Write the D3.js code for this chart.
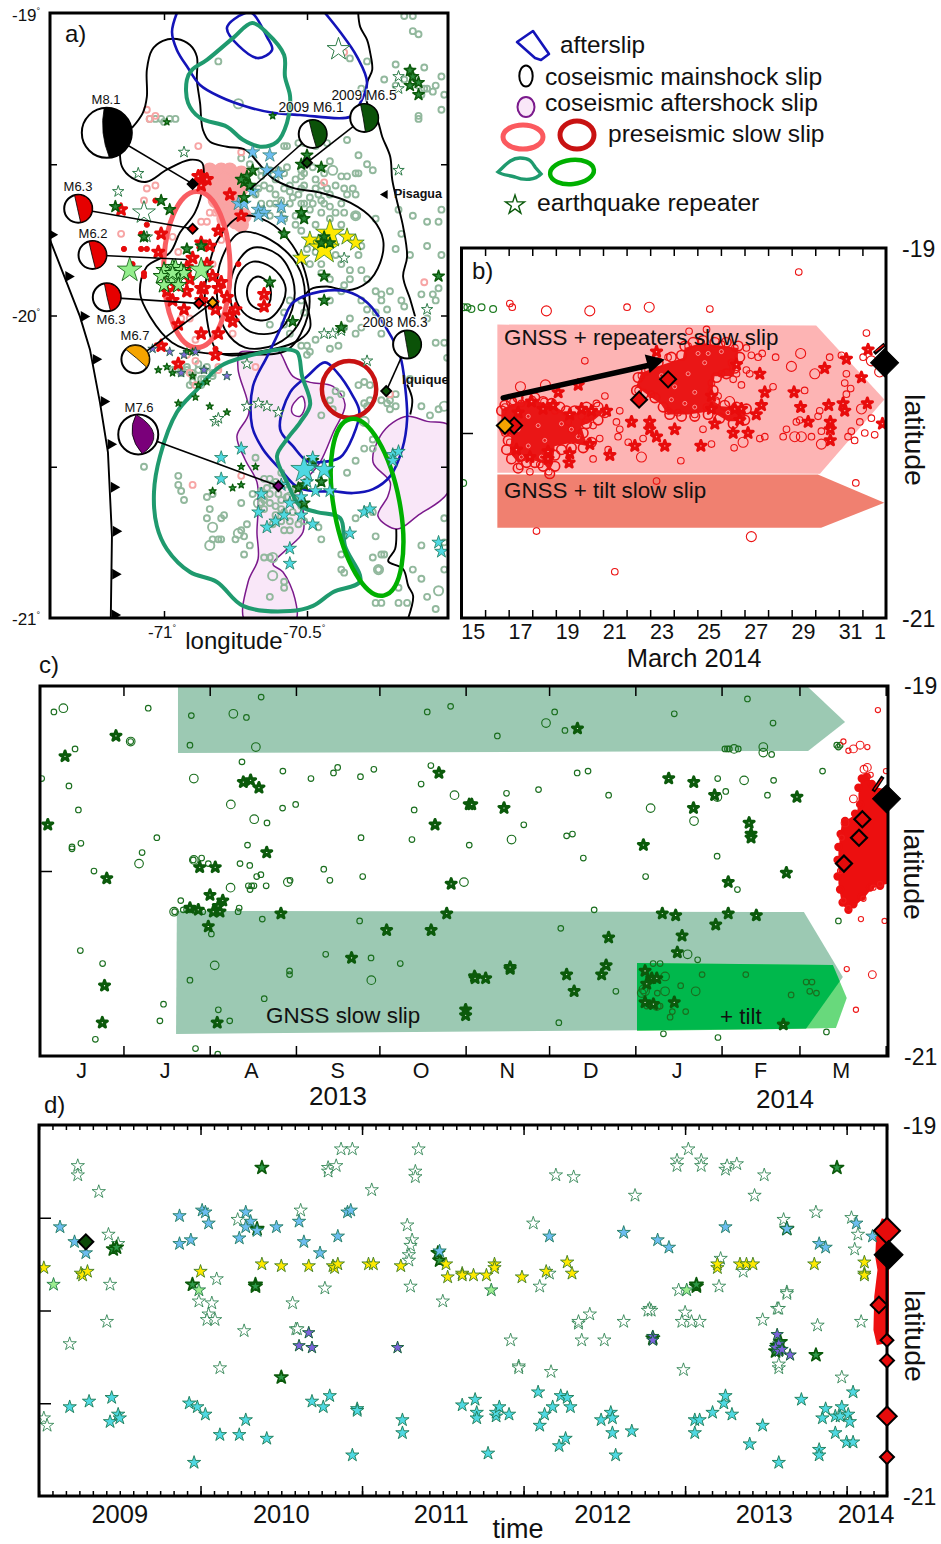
<!DOCTYPE html>
<html><head><meta charset="utf-8">
<style>html,body{margin:0;padding:0;background:#fff}svg{display:block}text{font-family:"Liberation Sans",Arial,sans-serif;fill:#111}</style>
<script src="https://cdn.jsdelivr.net/npm/d3@7/dist/d3.min.js"></script>
</head><body><script>
// ---------- PANEL A DATA (longitude, latitude) ----------
const aCoseisOuterA=[[-71.112,-19.38],[-71.074,-19.33],[-71.06,-19.277],[-71.06,-19.188],[-71.042,-19.122],[-71.004,-19.092],[-70.955,-19.086],[-70.909,-19.106],[-70.885,-19.145],[-70.885,-19.221],[-70.874,-19.297],[-70.864,-19.386],[-70.839,-19.426],[-70.78,-19.442],[-70.716,-19.452],[-70.671,-19.495],[-70.622,-19.545],[-70.549,-19.578],[-70.454,-19.594],[-70.349,-19.627],[-70.269,-19.683],[-70.234,-19.749],[-70.244,-19.825],[-70.29,-19.891],[-70.36,-19.917],[-70.43,-19.904],[-70.489,-19.914],[-70.514,-19.947]];
const aCoseisOuterB=[[-71.154,-19.442],[-71.147,-19.508],[-71.112,-19.545],[-71.06,-19.558],[-70.99,-19.518],[-70.909,-19.485],[-70.867,-19.495],[-70.864,-19.568],[-70.892,-19.66],[-70.944,-19.726],[-70.979,-19.792],[-71.06,-19.838],[-71.084,-19.924],[-71.049,-20.003],[-70.972,-20.089],[-70.874,-20.122],[-70.664,-20.119],[-70.524,-20.079],[-70.489,-20.04],[-70.507,-19.947]];
const aCoseisRings=[
[[-70.71,-19.924],[-70.699,-19.888],[-70.671,-19.871],[-70.636,-19.891],[-70.626,-19.924],[-70.633,-19.96],[-70.66,-19.98],[-70.696,-19.964]],
[[-70.752,-19.914],[-70.734,-19.855],[-70.689,-19.822],[-70.622,-19.842],[-70.577,-19.898],[-70.584,-19.957],[-70.636,-20.013],[-70.699,-20.007],[-70.741,-19.964]],
[[-70.769,-19.914],[-70.748,-19.832],[-70.689,-19.776],[-70.601,-19.799],[-70.549,-19.881],[-70.552,-19.98],[-70.605,-20.053],[-70.699,-20.053],[-70.752,-19.997]],
[[-70.815,-19.931],[-70.797,-19.809],[-70.734,-19.726],[-70.629,-19.749],[-70.535,-19.832],[-70.507,-19.931],[-70.531,-20.03],[-70.611,-20.096],[-70.716,-20.106],[-70.787,-20.046]],
[[-70.857,-19.947],[-70.846,-19.848],[-70.811,-19.749],[-70.734,-19.673],[-70.636,-19.69],[-70.552,-19.766],[-70.5,-19.881],[-70.496,-19.997],[-70.566,-20.112],[-70.699,-20.129],[-70.811,-20.119]]];
const aAfterslipTop=[[-70.955,-19],[-70.972,-19.063],[-70.955,-19.122],[-70.916,-19.182],[-70.874,-19.238],[-70.804,-19.277],[-70.71,-19.31],[-70.619,-19.33],[-70.524,-19.337],[-70.349,-19.343],[-70.321,-19.31],[-70.29,-19.231],[-70.325,-19.145],[-70.384,-19.063],[-70.437,-19]];
const aAfterslipSmall=[[-70.716,-19],[-70.78,-19.05],[-70.675,-19.149],[-70.622,-19.122],[-70.64,-19.079],[-70.692,-19]];
const aAfterslipBig=[[-70.549,-19.957],[-70.454,-19.921],[-70.36,-19.921],[-70.29,-19.957],[-70.22,-20.046],[-70.174,-20.135],[-70.157,-20.234],[-70.15,-20.343],[-70.167,-20.442],[-70.209,-20.531],[-70.269,-20.574],[-70.339,-20.587],[-70.409,-20.581],[-70.465,-20.581],[-70.534,-20.567],[-70.594,-20.508],[-70.654,-20.442],[-70.692,-20.366],[-70.689,-20.234],[-70.639,-20.135],[-70.594,-20.046]];
const aAfterslipInner=[[-70.594,-20.376],[-70.559,-20.254],[-70.499,-20.201],[-70.437,-20.155],[-70.395,-20.188],[-70.339,-20.267],[-70.317,-20.317],[-70.339,-20.399],[-70.384,-20.469],[-70.454,-20.485],[-70.499,-20.482],[-70.549,-20.432]];
const aGnssSlipTop=[[-70.692,-19.033],[-70.759,-19.083],[-70.85,-19.155],[-70.902,-19.188],[-70.92,-19.221],[-70.916,-19.297],[-70.874,-19.347],[-70.78,-19.376],[-70.724,-19.419],[-70.664,-19.442],[-70.605,-19.426],[-70.57,-19.363],[-70.559,-19.277],[-70.577,-19.211],[-70.58,-19.139],[-70.64,-19.066]];
const aGnssSlipBottom=[[-70.57,-20.112],[-70.534,-20.122],[-70.517,-20.201],[-70.489,-20.294],[-70.524,-20.353],[-70.57,-20.409],[-70.605,-20.465],[-70.57,-20.551],[-70.524,-20.63],[-70.465,-20.65],[-70.384,-20.67],[-70.367,-20.762],[-70.314,-20.878],[-70.408,-20.914],[-70.479,-20.96],[-70.559,-20.977],[-70.724,-20.96],[-70.815,-20.881],[-70.909,-20.848],[-70.99,-20.772],[-71.025,-20.696],[-71.035,-20.584],[-71.014,-20.465],[-70.955,-20.32],[-70.884,-20.244],[-70.804,-20.168],[-70.71,-20.135]];
const aAftershockSlipA=[[-70.734,-20.122],[-70.741,-20.178],[-70.703,-20.32],[-70.745,-20.399],[-70.717,-20.475],[-70.675,-20.551],[-70.671,-20.64],[-70.675,-20.716],[-70.671,-20.805],[-70.706,-20.881],[-70.716,-21.01],[-70.542,-21.01],[-70.542,-20.937],[-70.584,-20.848],[-70.619,-20.822],[-70.57,-20.772],[-70.514,-20.716],[-70.517,-20.617],[-70.524,-20.574],[-70.454,-20.485],[-70.408,-20.386],[-70.367,-20.294],[-70.409,-20.234],[-70.489,-20.221],[-70.549,-20.201],[-70.605,-20.112],[-70.654,-20.122]];
const aAftershockHole=[[-70.552,-20.3],[-70.517,-20.267],[-70.507,-20.3],[-70.524,-20.333],[-70.549,-20.326]];
const aAftershockSlipB=[[-70.0,-20.366],[-70.08,-20.35],[-70.147,-20.333],[-70.199,-20.353],[-70.244,-20.399],[-70.269,-20.485],[-70.209,-20.551],[-70.217,-20.597],[-70.252,-20.663],[-70.185,-20.706],[-70.115,-20.663],[-70.0,-20.574]];
const aCoastA=[[-70.321,-19],[-70.314,-19.046],[-70.29,-19.089],[-70.279,-19.132],[-70.272,-19.188],[-70.29,-19.231],[-70.29,-19.297],[-70.254,-19.353],[-70.237,-19.409],[-70.209,-19.475],[-70.202,-19.551],[-70.184,-19.627],[-70.164,-19.706],[-70.15,-19.805],[-70.164,-19.871],[-70.139,-19.947],[-70.122,-20.003]];
const aCoastB=[[-70.15,-20.228],[-70.132,-20.277],[-70.139,-20.327]];
const aCoastC=[[-70.188,-20.706],[-70.192,-20.772],[-70.216,-20.812],[-70.164,-20.838],[-70.146,-20.894],[-70.129,-20.927],[-70.146,-21]];
const aTrench=[[-71.403,-19.739],[-71.294,-20.003],[-71.259,-20.112],[-71.224,-20.287],[-71.196,-20.452],[-71.182,-20.729],[-71.186,-20.997]];
const aTrenchTeeth=[[-71.406,-19.733],[-71.348,-19.871],[-71.294,-20.003],[-71.252,-20.145],[-71.224,-20.284],[-71.2,-20.426],[-71.189,-20.568],[-71.182,-20.713],[-71.184,-20.855],[-71.186,-20.99]];
const aGreyCircles=[[-70.13,-19.06],[-70.11,-19.07],[-70.16,-19.01],[-70.13,-19.01],[-70.81,-19.16],[-70.19,-19.17],[-70.23,-19.22],[-70.09,-19.18],[-70.03,-19.21],[-70.19,-19.24],[-70.16,-19.22],[-70.14,-19.19],[-70.13,-19.21],[-70.11,-19.24],[-70.09,-19.25],[-70.08,-19.25],[-70.06,-19.26],[-70.05,-19.24],[-70.10,-19.27],[-70.02,-19.27],[-70.03,-19.32],[-70.11,-19.34],[-70.11,-19.35],[-70.29,-19.16],[-70.35,-19.15],[-70.31,-19.25],[-70.57,-19.44],[-70.58,-19.44],[-70.53,-19.43],[-70.51,-19.43],[-70.47,-19.44],[-70.43,-19.43],[-70.36,-19.42],[-70.32,-19.47],[-70.29,-19.50],[-70.27,-19.52],[-70.33,-19.53],[-70.42,-19.49],[-70.32,-19.53],[-71.05,-19.35],[-71.03,-19.35],[-71.01,-19.35],[-71.0,-19.36],[-70.98,-19.35],[-70.96,-19.35],[-70.73,-19.48],[-70.70,-19.50],[-70.66,-19.52],[-70.63,-19.52],[-70.58,-19.53],[-70.54,-19.55],[-70.52,-19.52],[-70.51,-19.57],[-70.47,-19.58],[-70.44,-19.53],[-70.40,-19.57],[-70.37,-19.58],[-70.42,-19.60],[-70.45,-19.62],[-70.49,-19.61],[-70.53,-19.60],[-70.56,-19.59],[-70.59,-19.62],[-70.61,-19.60],[-70.63,-19.63],[-70.59,-19.65],[-70.56,-19.63],[-70.52,-19.63],[-70.49,-19.65],[-70.45,-19.66],[-70.42,-19.64],[-70.38,-19.63],[-70.36,-19.60],[-70.33,-19.60],[-70.54,-19.67],[-70.51,-19.68],[-70.58,-19.68],[-70.63,-19.67],[-70.66,-19.63],[-70.68,-19.60],[-70.70,-19.57],[-70.65,-19.57],[-70.61,-19.55],[-70.56,-19.57],[-70.51,-19.53],[-70.47,-19.55],[-70.54,-19.70],[-70.58,-19.73],[-70.52,-19.72],[-70.47,-19.70],[-70.42,-19.68],[-70.38,-19.70],[-70.33,-19.67],[-70.18,-19.65],[-70.13,-19.67],[-70.08,-19.69],[-70.04,-19.69],[-70.03,-19.65],[-70.17,-19.73],[-70.08,-19.77],[-70.19,-19.78],[-70.14,-19.80],[-70.26,-19.68],[-70.31,-19.77],[-70.32,-19.80],[-70.50,-19.78],[-70.47,-19.79],[-70.45,-19.83],[-70.40,-19.80],[-70.49,-19.83],[-70.38,-19.83],[-70.35,-19.85],[-70.45,-19.86],[-70.42,-19.88],[-70.37,-19.90],[-70.31,-19.85],[-70.35,-19.88],[-70.38,-19.92],[-70.42,-19.95],[-70.29,-19.88],[-70.26,-19.92],[-70.24,-19.93],[-70.21,-19.92],[-70.17,-19.95],[-70.16,-19.97],[-70.10,-19.93],[-70.06,-19.93],[-70.05,-19.95],[-70.03,-19.80],[-70.04,-19.91],[-70.22,-19.98],[-70.24,-19.95],[-70.31,-19.95],[-70.29,-19.98],[-70.26,-19.99],[-70.52,-19.95],[-70.56,-19.95],[-70.51,-19.99],[-70.58,-19.99],[-70.63,-20.03],[-70.58,-20.03],[-70.56,-20.06],[-70.52,-20.10],[-70.47,-20.08],[-70.42,-20.11],[-70.37,-20.04],[-70.33,-20.06],[-70.35,-20.01],[-70.31,-20.04],[-70.39,-20.10],[-70.24,-20.06],[-70.50,-20.13],[-70.50,-20.10],[-70.49,-20.12],[-70.92,-20.18],[-70.94,-20.19],[-70.90,-20.19],[-70.87,-20.21],[-70.90,-20.22],[-70.96,-20.18],[-70.97,-20.18],[-70.85,-20.17],[-70.83,-20.19],[-70.91,-20.23],[-70.87,-20.23],[-70.08,-20.01],[-70.05,-20.09],[-70.02,-20.09],[-70.14,-20.21],[-70.01,-20.14],[-70.21,-20.28],[-70.19,-20.26],[-70.22,-20.29],[-70.24,-20.28],[-70.28,-20.23],[-70.28,-20.28],[-70.29,-20.30],[-70.30,-20.22],[-70.38,-20.26],[-70.40,-20.25],[-70.41,-20.31],[-70.45,-20.33],[-70.42,-20.28],[-70.32,-20.23],[-70.30,-20.29],[-70.21,-20.31],[-70.19,-20.30],[-70.10,-20.30],[-70.04,-20.31],[-70.07,-20.33],[-70.27,-20.41],[-70.33,-20.48],[-70.36,-20.52],[-70.68,-20.47],[-70.63,-20.54],[-70.59,-20.52],[-70.58,-20.56],[-70.63,-20.59],[-70.65,-20.61],[-70.61,-20.63],[-70.58,-20.65],[-70.54,-20.61],[-70.52,-20.63],[-70.56,-20.68],[-70.61,-20.66],[-70.65,-20.64],[-70.59,-20.68],[-70.56,-20.71],[-70.51,-20.68],[-70.62,-20.56],[-70.66,-20.58],[-70.69,-20.59],[-70.59,-20.61],[-70.54,-20.57],[-71.07,-20.50],[-70.95,-20.53],[-70.95,-20.56],[-70.94,-20.58],[-70.93,-20.61],[-70.85,-20.60],[-70.83,-20.59],[-70.84,-20.64],[-70.79,-20.66],[-70.85,-20.67],[-70.80,-20.67],[-70.73,-20.62],[-70.72,-20.79],[-70.75,-20.74],[-70.72,-20.73],[-70.71,-20.69],[-70.73,-20.71],[-70.70,-20.76],[-70.80,-20.74],[-70.81,-20.74],[-70.83,-20.74],[-70.65,-20.80],[-70.63,-20.80],[-70.58,-20.88],[-70.58,-20.90],[-70.63,-20.93],[-70.45,-20.74],[-70.46,-20.70],[-70.37,-20.73],[-70.38,-20.79],[-70.38,-20.84],[-70.37,-20.85],[-70.33,-20.67],[-70.30,-20.44],[-70.27,-20.44],[-70.27,-20.65],[-70.26,-20.73],[-70.24,-20.79],[-70.23,-20.79],[-70.27,-20.80],[-70.25,-20.84],[-70.10,-20.76],[-70.13,-20.84],[-70.18,-20.90],[-70.24,-20.95],[-70.26,-20.95],[-70.18,-20.95],[-70.15,-20.95],[-70.10,-20.87],[-70.08,-20.93],[-70.05,-20.97],[-70.02,-20.84],[-70.02,-20.75],[-70.02,-20.67],[-70.66,-19.54],[-70.6,-19.52],[-70.57,-19.51],[-70.52,-19.54],[-70.48,-19.51],[-70.45,-19.57],[-70.38,-19.54],[-70.52,-19.58],[-70.48,-19.63],[-70.44,-19.63],[-70.4,-19.66],[-70.37,-19.66],[-70.55,-19.61],[-70.58,-19.58],[-70.63,-19.58],[-70.67,-19.58],[-70.61,-19.63],[-70.51,-19.63],[-70.46,-19.6],[-70.43,-19.58],[-70.36,-19.54],[-70.34,-19.58],[-70.65,-20.54],[-70.64,-20.57],[-70.61,-20.55],[-70.6,-20.59],[-70.57,-20.6],[-70.63,-20.62],[-70.59,-20.64],[-70.55,-20.65],[-70.66,-20.62],[-70.53,-20.69],[-70.58,-20.71],[-70.62,-20.69],[-70.92,-20.17],[-70.88,-20.16],[-70.86,-20.18],[-70.9,-20.2],[-70.86,-20.21],[-70.83,-20.2],[-70.88,-20.18]];
const aGreyCirclesLarge=[[-70.74,-19.30],[-70.41,-19.52],[-70.33,-19.67],[-70.62,-20.80],[-70.84,-20.76],[-70.83,-20.70],[-70.74,-20.72],[-70.62,-20.86],[-70.67,-20.62],[-70.56,-20.60],[-70.30,-20.35],[-70.25,-20.84],[-70.04,-20.91],[-70.02,-20.30]];
const aPaleRedCircles=[[-71.06,-19.32],[-71.03,-19.34],[-71.05,-19.35],[-70.88,-19.44],[-71.06,-19.58],[-71.03,-19.57],[-71.07,-19.62],[-71.15,-19.73],[-70.44,-19.56],[-70.09,-19.89],[-70.37,-19.13],[-70.73,-19.46],[-70.85,-19.69],[-70.84,-19.66],[-70.87,-19.69],[-70.97,-19.74],[-70.95,-19.79],[-70.82,-19.66],[-70.80,-19.75],[-70.83,-19.83],[-70.94,-20.01],[-70.91,-20.01],[-70.89,-20.08],[-70.82,-20.06],[-70.76,-20.06],[-70.89,-20.15],[-70.92,-20.13],[-70.81,-20.17],[-70.89,-20.23],[-70.73,-20.53],[-70.90,-20.56],[-70.81,-20.18],[-70.91,-20.19],[-70.21,-20.26],[-70.68,-20.17]];
const aPinkCloud=[[-70.84,-19.52],[-70.80,-19.52],[-70.77,-19.52],[-70.73,-19.53],[-70.86,-19.55],[-70.82,-19.55],[-70.79,-19.55],[-70.75,-19.56],[-70.84,-19.58],[-70.80,-19.58],[-70.77,-19.58],[-70.73,-19.58],[-70.82,-19.62],[-70.79,-19.62],[-70.75,-19.62],[-70.80,-19.65],[-70.77,-19.65],[-70.73,-19.67],[-70.75,-19.69],[-70.72,-19.67],[-70.79,-19.68],[-70.73,-19.70]];
const aRedDots=[[-71.03,-19.62],[-71.06,-19.70],[-71.08,-19.73],[-71.14,-19.78],[-71.08,-19.78],[-71.11,-19.83],[-71.06,-19.78],[-71.07,-19.87],[-70.82,-20.11],[-71.07,-19.86],[-70.74,-19.83]];
const aRedStars=[[-70.87,-19.54],[-70.85,-19.55],[-70.87,-19.57],[-70.88,-19.54],[-70.77,-19.60],[-70.73,-19.67],[-71.15,-19.65],[-71.01,-19.73],[-71.02,-19.79],[-70.81,-19.72],[-70.87,-19.76],[-70.84,-19.77],[-70.90,-19.81],[-70.85,-19.83],[-70.92,-19.84],[-70.83,-19.87],[-70.80,-19.89],[-70.81,-19.91],[-70.99,-19.92],[-70.97,-19.95],[-70.92,-19.92],[-70.87,-19.91],[-70.78,-19.94],[-70.83,-19.96],[-70.77,-20.0],[-70.95,-20.03],[-70.76,-20.02],[-70.81,-20.06],[-70.65,-19.93],[-70.65,-19.97],[-70.87,-20.06],[-71.01,-20.10],[-70.95,-20.16],[-70.82,-20.13],[-70.87,-19.95],[-70.91,-19.88],[-70.86,-19.91],[-70.96,-19.90],[-70.82,-19.98],[-70.75,-19.98],[-70.93,-19.98]];
const aLightGreenStars=[[-71.0,-19.85],[-70.97,-19.84],[-70.96,-19.84],[-70.94,-19.85],[-70.98,-19.87],[-70.97,-19.88],[-70.95,-19.88],[-70.93,-19.86],[-71.01,-19.87],[-70.97,-19.86],[-70.95,-19.9],[-71.0,-19.9]];
const aLightGreenBig=[[-70.87,-19.85],[-71.12,-19.85]];
const aBlueStars=[[-70.69,-19.46],[-70.63,-19.47],[-70.64,-19.52],[-70.60,-19.53],[-70.69,-19.59],[-70.74,-19.63],[-70.67,-19.65],[-70.72,-19.63],[-70.65,-19.66],[-70.59,-19.64],[-70.59,-19.68],[-70.67,-19.67]];
const aDarkStars=[[-70.71,-19.54],[-70.72,-19.56],[-70.70,-19.57],[-70.73,-19.55],[-70.69,-19.52],[-70.72,-19.61],[-70.50,-19.47],[-70.52,-19.50],[-70.45,-19.51],[-70.52,-19.66],[-70.51,-19.68],[-70.58,-19.73],[-70.04,-19.87],[-70.44,-19.87],[-70.44,-19.95],[-70.14,-19.19],[-70.13,-19.21],[-70.11,-19.23],[-70.14,-19.24],[-70.11,-19.27],[-70.55,-20.02],[-70.38,-20.04],[-70.63,-19.89],[-70.92,-19.78],[-70.87,-19.77],[-70.98,-19.65],[-71.01,-19.62],[-71.07,-19.74],[-71.17,-19.64],[-70.48,-20.48],[-70.51,-20.56],[-70.51,-20.62],[-70.45,-20.55],[-70.53,-20.57]];
const aSmallDarkStars=[[-70.90,-20.12],[-70.92,-20.12],[-71.02,-20.18],[-70.99,-20.17],[-70.97,-20.19],[-70.90,-20.2],[-70.85,-20.22],[-70.88,-20.23],[-70.89,-20.27],[-70.95,-20.29],[-70.84,-20.30],[-70.78,-20.32],[-70.73,-20.56],[-70.76,-20.57],[-70.83,-20.58],[-70.68,-20.5],[-70.73,-20.5],[-70.99,-19.36],[-70.62,-19.34]];
const aOpenStars=[[-70.18,-19.21],[-70.18,-19.25],[-70.18,-19.52],[-71.09,-19.53],[-71.16,-19.59],[-70.93,-19.46],[-71.06,-19.74],[-70.08,-19.98],[-70.37,-19.81],[-70.29,-20.15],[-70.44,-20.06],[-70.41,-20.06],[-70.38,-20.05],[-70.71,-20.16],[-70.67,-20.29],[-70.64,-20.30],[-70.60,-20.32],[-70.71,-20.30],[-70.82,-20.35],[-70.81,-20.34]];
const aOpenStarsLarge=[[-70.39,-19.12],[-71.07,-19.66]];
const aYellowStars=[[-70.42,-19.73],[-70.44,-19.78],[-70.46,-19.76],[-70.36,-19.74],[-70.33,-19.76],[-70.52,-19.81],[-70.49,-19.75]];
const aCyanStars=[[-70.51,-20.51],[-70.44,-20.51],[-70.48,-20.47],[-70.50,-20.55],[-70.47,-20.58],[-70.52,-20.60],[-70.56,-20.62],[-70.59,-20.56],[-70.66,-20.59],[-70.80,-20.54],[-70.80,-20.47],[-70.73,-20.44],[-70.67,-20.65],[-70.61,-20.68],[-70.58,-20.66],[-70.64,-20.70],[-70.52,-20.66],[-70.48,-20.69],[-70.56,-20.77],[-70.56,-20.82],[-70.35,-20.72],[-70.30,-20.65],[-70.28,-20.64],[-70.20,-20.46],[-70.18,-20.45],[-70.20,-20.48],[-70.04,-20.75],[-70.03,-20.78],[-70.42,-20.58],[-70.49,-20.50]];
const aPurpleStars=[[-71.04,-20.11],[-70.98,-20.12],[-70.89,-20.12],[-70.93,-20.13],[-70.94,-20.19],[-70.86,-20.18],[-70.78,-20.2]];
const aMechanisms=[
 {label:"M8.1",lon:-71.20,lat:-19.396,epi:[-70.90,-19.565],color:"#000",a1:-6,a2:174,ctrl:[-.3,0],mag:8.1},
 {label:"M6.3",lon:-71.30,lat:-19.647,epi:[-70.90,-19.713],color:"#e60000",a1:-15,a2:170,ctrl:[-.05,0],mag:6.3},
 {label:"M6.2",lon:-71.25,lat:-19.80,epi:[-70.92,-19.815],color:"#e60000",a1:-15,a2:168,ctrl:[-.05,0],mag:6.2},
 {label:"M6.3",lon:-71.20,lat:-19.94,epi:[-70.878,-19.96],color:"#e60000",a1:-10,a2:165,ctrl:[0,0],mag:6.3},
 {label:"M6.7",lon:-71.10,lat:-20.145,epi:[-70.83,-19.957],color:"#f5a400",a1:-44,a2:125,ctrl:[.1,-.1],mag:6.7},
 {label:"M7.6",lon:-71.09,lat:-20.393,epi:[-70.60,-20.564],color:"#7a007a",a1:-6,a2:168,ctrl:[-.65,0],front:[1.5,0],mag:7.6},
 {label:"2009 M6.1",lon:-70.48,lat:-19.40,epi:[-70.70,-19.584],color:"#0b5208",a1:-15,a2:165,ctrl:[-.05,0],mag:6.1},
 {label:"2009 M6.5",lon:-70.30,lat:-19.347,epi:[-70.50,-19.495],color:"#0b5208",a1:-15,a2:175,ctrl:[-.05,0],mag:6.5},
 {label:"2008 M6.3",lon:-70.15,lat:-20.096,epi:[-70.223,-20.25],color:"#0b5208",a1:-12,a2:172,ctrl:[-.05,0],mag:6.3}];
const aMechanismLabelAt=[[106,104],[78,191],[93,238],[111,324],[135,340],[139,412],[311,112],[364,100],[395,327]];
const aTowns=[{name:"Pisagua",lon:-70.227,lat:-19.60}];
const aLonTicks=[-71,-70.5], aLatTicks=[-19.5,-20,-20.5];
const aBright=[{lon:-70.885,lat:-19.848,rlon:.116,rlat:.258,rot:0,color:"#f95d62",w:5},{lon:-70.353,lat:-20.244,rlon:.095,rlat:.094,rot:0,color:"#c81212",w:4.5},{lon:-70.29,lat:-20.634,rlon:.115,rlat:.297,rot:-10.6,color:"#00b000",w:4.5}];

// ---------- PANEL B DATA (day of March 2014, latitude) ----------
const bDays=[15,17,19,21,23,25,27,29,31], bDayTicks=d3.range(16,33);
const bRepeaterSlip=[[16.52,-19.414],[30.04,-19.419],[32.93,-19.819],[30.2,-20.22],[16.52,-20.215]];
const bTiltSlip=[[16.52,-20.224],[30.11,-20.224],[32.93,-20.377],[30.25,-20.512],[16.52,-20.512]];
const bArrow=[[16.77,-19.81],[23.1,-19.63]], bArrowHead=[[22.77,-19.576],[23.62,-19.603],[22.98,-19.675]];
const bMassLeft=[[16.69,-19.873],[17.12,-19.846],[17.97,-19.819],[18.95,-19.855],[19.52,-19.90],[20.65,-19.873],[21.07,-19.882],[20.65,-19.927],[20.08,-19.963],[20.22,-20.026],[20.37,-20.071],[19.66,-20.053],[18.95,-20.071],[18.88,-20.161],[18.74,-20.206],[18.46,-20.161],[17.89,-20.143],[17.40,-20.161],[17.05,-20.107],[17.12,-20.017],[16.69,-19.963]];
const bMassRight=[[22.41,-19.747],[22.62,-19.675],[23.33,-19.639],[23.75,-19.621],[24.39,-19.594],[24.46,-19.54],[25.17,-19.513],[26.72,-19.54],[26.72,-19.621],[26.51,-19.693],[25.73,-19.693],[25.59,-19.819],[26.01,-19.855],[27.0,-19.864],[27.0,-19.936],[26.30,-19.936],[25.59,-19.882],[24.60,-19.90],[23.75,-19.90],[23.47,-19.846],[22.77,-19.783]];
const bCircles=[[17.05,-19.30],[17.15,-19.32],[22.02,-19.32],[25.53,-19.33],[29.3,-19.13],[24.65,-19.45],[25.39,-19.44],[20.23,-19.61],[21.08,-19.8],[27.08,-19.54],[27.29,-19.58],[27.58,-19.59],[27.75,-19.57],[28.32,-19.59],[30.61,-19.59],[31.11,-19.58],[31.32,-19.68],[32.03,-19.59],[32.17,-19.46],[27.08,-19.66],[27.22,-19.68],[26.52,-19.71],[26.87,-19.74],[28.21,-19.75],[29.55,-19.77],[31.25,-19.73],[31.5,-19.76],[31.32,-19.79],[32.38,-19.92],[31.89,-19.94],[31.67,-20.04],[32.1,-20.0],[32.52,-20.01],[30.19,-19.88],[30.12,-19.91],[29.2,-19.94],[29.34,-19.93],[28.78,-19.98],[28.64,-20.02],[29.84,-20.02],[30.26,-19.99],[31.39,-20.02],[31.53,-19.99],[25.6,-20.06],[25.24,-19.98],[26.56,-20.08],[27.65,-20.03],[27.86,-20.02],[24.3,-20.15],[21.71,-19.88],[21.57,-19.94],[21.71,-19.98],[21.64,-20.02],[22.07,-20.05],[22.7,-20.03],[23.27,-20.26],[31.72,-20.27],[18.18,-20.53],[21.5,-20.75],[16.84,-19.86],[17.19,-19.83],[17.54,-19.84],[18.0,-19.82],[18.5,-19.83],[18.96,-19.88],[19.52,-19.94],[20.09,-19.91],[20.72,-19.84],[20.3,-19.93],[20.58,-19.96],[19.66,-19.98],[20.86,-20.03],[21.22,-20.09],[20.58,-20.14],[17.47,-20.18],[17.9,-20.21],[18.7,-20.21],[18.32,-20.17],[17.05,-20.05],[16.84,-20.0],[16.98,-19.95],[22.63,-19.69],[22.91,-19.66],[23.76,-19.59],[24.61,-19.53],[25.17,-19.51],[26.02,-19.52],[26.59,-19.54],[26.45,-19.62],[26.66,-19.68],[26.02,-19.68],[25.6,-19.73],[25.88,-19.8],[23.76,-19.88],[24.18,-19.89],[24.89,-19.9],[25.39,-19.86],[26.87,-19.91],[22.49,-19.77],[23.05,-19.79]];
const bCirclesLarge=[[18.6,-19.34],[20.44,-19.34],[22.96,-19.32],[17.5,-19.75],[18.56,-19.74],[28.99,-19.64],[29.38,-19.57],[29.98,-19.68],[32.38,-19.61],[32.73,-19.67],[31.96,-19.87],[29.13,-20.02],[29.41,-20.02],[30.26,-20.06],[26.94,-20.05],[22.63,-20.13],[27.29,-20.56],[26.37,-19.83]];
const bMassEdgeCircles=[[16.7,-19.88],[16.84,-19.85],[17.12,-19.83],[17.4,-19.81],[17.76,-19.81],[18.11,-19.81],[18.46,-19.83],[18.82,-19.84],[19.17,-19.86],[19.45,-19.88],[19.8,-19.88],[20.3,-19.86],[20.79,-19.86],[21.08,-19.89],[20.79,-19.93],[20.3,-19.95],[20.16,-20.0],[20.51,-20.05],[20.16,-20.08],[19.66,-20.08],[19.24,-20.09],[18.96,-20.12],[18.96,-20.18],[18.74,-20.22],[18.46,-20.18],[18.11,-20.16],[17.76,-20.16],[17.4,-20.19],[17.12,-20.14],[16.91,-20.09],[16.98,-20.04],[16.84,-19.98],[22.42,-19.77],[22.49,-19.7],[22.84,-19.66],[23.34,-19.62],[23.9,-19.59],[24.33,-19.58],[24.47,-19.53],[24.82,-19.51],[25.24,-19.5],[25.74,-19.51],[26.23,-19.51],[26.73,-19.53],[26.8,-19.59],[26.59,-19.65],[26.23,-19.68],[25.81,-19.7],[25.67,-19.77],[25.74,-19.83],[26.16,-19.85],[26.66,-19.86],[27.08,-19.87],[27.01,-19.93],[26.52,-19.95],[25.95,-19.92],[25.46,-19.9],[24.89,-19.91],[24.33,-19.91],[23.83,-19.9],[23.55,-19.86],[23.2,-19.81],[22.7,-19.79]];
const bMassGaps=[[17.4,-19.98],[17.83,-19.91],[18.25,-19.96],[18.53,-20.04],[17.83,-20.07],[18.39,-20.13],[17.54,-20.13],[19.24,-19.95],[19.66,-19.98],[19.95,-20.02],[23.48,-19.69],[24.04,-19.75],[24.61,-19.68],[24.89,-19.78],[25.31,-19.62],[24.47,-19.84],[23.9,-19.82],[25.46,-19.57],[26.02,-19.56],[25.03,-19.57],[26.3,-19.89],[24.89,-19.86]];
const bGreenCircles=[[15.1,-19.32],[15.25,-19.32],[15.42,-19.33],[15.85,-19.32],[16.34,-19.33],[15.07,-20.27]];
const bStars=[[23.27,-19.56],[21.15,-19.88],[22.21,-19.94],[22.98,-19.94],[22.98,-19.98],[22.35,-20.07],[23.27,-20.02],[23.62,-20.07],[24.04,-19.98],[25.15,-20.07],[25.74,-19.95],[26.52,-20.0],[27.15,-20.0],[26.8,-19.93],[27.5,-19.9],[27.72,-19.85],[27.86,-19.78],[27.65,-19.68],[29.1,-19.78],[29.38,-19.86],[30.4,-19.65],[31.32,-19.6],[31.96,-19.7],[32.24,-19.55],[32.21,-19.84],[31.18,-19.84],[31.25,-19.88],[30.57,-19.85],[30.64,-19.94],[30.64,-19.98],[30.64,-20.04],[29.7,-19.94],[32.85,-19.95],[19.59,-20.11],[19.56,-20.16],[21.29,-20.12],[20.44,-20.06],[19.95,-19.74],[19.1,-19.78],[18.89,-19.85],[18.46,-19.87],[17.97,-19.83],[17.4,-19.89],[17.12,-19.98],[17.33,-20.09],[17.9,-20.13],[18.67,-20.14],[18.67,-20.1],[19.59,-19.9],[20.51,-19.88],[20.09,-19.87],[26.59,-19.87],[26.87,-19.87],[25.6,-19.87],[26.66,-19.63],[25.6,-19.8]];
const bMainshock=[32.94,-19.62], bForeshocks=[[17.23,-19.96],[22.53,-19.82],[23.76,-19.71]], bOrangeShock=[16.84,-19.96];

// ---------- PANEL C DATA (days after 1 June 2013, latitude) ----------
const cMonthTicks=[30,61,92,122,153,183,214,245,273,304];
const cMonthLabels=["J","J","A","S","O","N","D","J","F","M"];
const cMonthLabelDay=[15,45,76,107,137,168,198,229,259,288];
const cSlipTop=[[49.6,-19],[275.7,-19],[289.4,-19.195],[276.1,-19.351],[49.6,-19.362]];
const cSlipBottom=[[49.2,-20.216],[274.6,-20.222],[288.6,-20.573],[275.3,-20.854],[48.9,-20.881]];
const cTilt=[[214.6,-20.497],[285,-20.508],[290,-20.686],[286.1,-20.849],[214.6,-20.865]];
const cCircles=[[5,-19.14],[38.9,-19.12],[.6,-19.5],[12.6,-19.34],[10.4,-19.54],[13.8,-19.67],[14.7,-19.85],[11.5,-19.87],[11.5,-19.88],[19.4,-20],[36.7,-19.9],[42,-19.82],[32.6,-19.3],[54.4,-19.16],[53.9,-19.32],[74.2,-19.17],[79.5,-19.06],[72.6,-19.41],[81.6,-19.74],[87.3,-19.46],[87.2,-19.66],[91.9,-19.64],[97.4,-19.5],[105.5,-19.47],[107,-19.44],[115.2,-19.49],[120,-19.45],[115.4,-19.82],[133.7,-19.83],[134.5,-19.67],[137,-19.53],[140.5,-19.43],[154.3,-19.86],[139.2,-19.14],[147.6,-19.11],[74.6,-19.86],[71.9,-19.96],[75.4,-19.97],[79.4,-20.02],[77.9,-20.03],[81.3,-20.08],[89.9,-20.05],[102,-19.99],[104.2,-20.05],[116,-20.03],[55.1,-19.94],[58.1,-19.93],[60.5,-19.96],[50.6,-20.16],[48.4,-20.22],[51.5,-20.21],[52.7,-20.21],[53.9,-20.21],[58.5,-20.22],[71.2,-20.22],[71.6,-20.2],[74.9,-20.08],[76.1,-20.08],[76.9,-20.08],[75.5,-20.1],[61.6,-20.34],[79.9,-20.26],[114.9,-20.27],[102.7,-20.45],[119,-20.47],[129.5,-20.5],[89.7,-20.54],[89.7,-20.56],[53.9,-20.59],[80.6,-20.69],[14.5,-20.43],[22.5,-20.5],[44.4,-20.72],[43.1,-20.81],[64.1,-20.75],[68.2,-20.81],[19.9,-20.91],[55.9,-20.96],[63.9,-20.99],[185,-19.14],[188.7,-19.24],[164.4,-19.27],[228,-19.15],[254.3,-19.07],[263.5,-19.2],[246.2,-19.34],[247.1,-19.34],[247.8,-19.34],[251,-19.34],[263,-19.37],[193.1,-19.47],[197,-19.46],[167.7,-19.58],[179.2,-19.56],[204.4,-19.59],[173.9,-19.75],[189.3,-19.81],[191.4,-19.8],[195.3,-19.93],[217.7,-20.03],[243.6,-19.5],[246.5,-19.57],[263.7,-19.51],[261.5,-19.59],[281.3,-19.46],[243.4,-19.92],[250.7,-20.1],[199.2,-20.21],[187.2,-20.31],[207,-20.65],[186.5,-20.82],[236.4,-20.48],[220.4,-20.5],[222.9,-20.5],[238,-20.56],[253.7,-20.56],[230.3,-20.62],[275.4,-20.6],[277.5,-20.6],[276.7,-20.65],[279.1,-20.66],[270,-20.67],[232.1,-20.76],[227.3,-20.76],[226.5,-20.79],[224.1,-20.88],[243.7,-20.9],[282.7,-20.87],[221.9,-20.66],[219.9,-20.72],[218.1,-20.73],[222.9,-20.73],[287,-20.27],[286.4,-19.32],[287,-19.33],[287.6,-19.32]];
const cCirclesLarge=[[8.4,-19.12],[35.6,-19.96],[32.6,-19.3],[55.3,-19.5],[69.5,-19.15],[77.6,-19.33],[68.6,-19.64],[77,-19.72],[149,-19.59],[68.5,-20.09],[89.1,-20.06],[152.4,-20.06],[55.3,-19.94],[48.2,-20.22],[119.1,-20.59],[62.8,-20.51],[181.9,-19.2],[249.5,-19.34],[260,-19.33],[260,-19.36],[169.5,-19.83],[219.5,-19.66],[235.1,-19.73],[253.1,-19.51],[243.5,-19.6],[232.8,-20.45],[224.7,-20.57],[235.7,-20.65],[216.9,-20.64],[217.5,-20.65],[224.7,-20.65],[221.7,-20.73],[216.3,-20.66]];
const cStars=[[27.3,-19.27],[9,-19.38],[2.8,-19.75],[24,-20.04],[23.2,-20.62],[22.4,-20.82],[57.4,-19.98],[63,-19.98],[61.1,-20.13],[65.7,-20.16],[64.1,-20.19],[62.3,-20.22],[64.7,-20.22],[60.5,-20.3],[56.9,-20.21],[53.9,-20.2],[73.1,-19.52],[75.7,-19.51],[78.7,-19.55],[81.5,-19.9],[86.6,-20.23],[124.6,-20.32],[112,-20.47],[140.6,-20.32],[146.2,-20.23],[147.8,-20.07],[142,-19.75],[143.4,-19.47],[154.3,-19.64],[156.2,-20.57],[153,-20.75],[153,-20.78],[63.7,-20.82],[193.2,-19.23],[226,-19.5],[235,-19.52],[242.5,-19.59],[234.9,-19.66],[272.1,-19.6],[254.9,-19.74],[255.6,-19.8],[255.6,-19.82],[216.9,-19.86],[268.3,-20.01],[247.4,-20.06],[166.8,-19.66],[155.2,-19.64],[223.7,-20.23],[228.5,-20.24],[247.4,-20.23],[257.5,-20.24],[242.9,-20.29],[230.8,-20.35],[229.1,-20.44],[204.4,-20.36],[203.5,-20.51],[201.9,-20.56],[189.3,-20.56],[192,-20.65],[169,-20.53],[169,-20.52],[156.4,-20.58],[160.2,-20.58],[217.5,-20.54],[219.9,-20.58],[221.7,-20.58],[218.1,-20.61],[217.5,-20.71],[220.5,-20.72],[228,-20.71],[267.2,-20.83]];
const cRedMass=[[294.2,-19.581],[295.4,-19.491],[297.8,-19.491],[299.6,-19.545],[302.6,-19.554],[305,-19.545],[305,-20.067],[299,-20.094],[296.6,-20.139],[290.6,-20.22],[288.2,-20.175],[287,-20.067],[287,-19.887],[288.2,-19.743],[293.6,-19.689],[294.2,-19.635]];
const cRedEdge=[[294.2,-19.55],[295.4,-19.5],[297.2,-19.49],[299,-19.53],[294.8,-19.64],[293,-19.69],[289.4,-19.73],[287.8,-19.8],[287,-19.87],[286.7,-19.94],[286.7,-20.03],[287.6,-20.1],[288.5,-20.17],[290.6,-20.21],[292.4,-20.18],[295.4,-20.14],[298.4,-20.09],[302,-20.08]];
const cRedCircles=[[301.2,-19.13],[290,-20.53],[293.3,-20.75],[295.1,-20.26],[303.6,-20.27],[304.1,-19.46],[288.8,-19.3],[290.6,-19.35],[297.4,-19.33],[298.6,-19.48],[296,-20.15],[290.6,-20.2],[288.8,-20.16],[287.6,-20],[288.2,-19.82],[302,-20.07],[299.6,-20.09]];
const cRedCirclesLarge=[[299.2,-20.56],[292.4,-19.34],[294.8,-19.32],[296.2,-19.45],[297.4,-19.44],[292.4,-19.61],[289.4,-19.74]];
const cForeshocks=[[295.6,-19.72],[294.4,-19.82],[289,-19.96]], cMainshock=[304.3,-19.61];

// ---------- PANEL D DATA (decimal year, latitude) ----------
const dYears=[2009,2010,2011,2012,2013,2014];
const dLabelAt=[2009.5,2010.5,2011.49,2012.49,2013.49,2014.12];
const dOpen=[[2009.24,-19.22],[2009.24,-19.27],[2009.37,-19.36],[2009.43,-19.59],[2009.49,-19.64],[2009.44,-19.86],[2009.42,-20.06],[2009.19,-20.18],[2009.03,-20.58],[2009.05,-20.62],[2010.1,-19.83],[2009.99,-19.95],[2010.07,-19.96],[2010.05,-20.02],[2010.04,-20.05],[2010.09,-20.05],[2010.12,-20.31],[2010.27,-20.11],[2010.23,-19.51],[2010.57,-19.96],[2010.59,-20.1],[2010.6,-20.1],[2010.62,-19.46],[2010.77,-19.88],[2010.79,-19.23],[2010.79,-19.25],[2010.84,-19.22],[2010.87,-19.13],[2010.94,-19.13],[2011.06,-19.35],[2011.28,-19.54],[2011.31,-19.62],[2011.3,-19.65],[2011.29,-19.7],[2011.29,-19.73],[2011.3,-19.87],[2011.33,-19.25],[2011.33,-19.28],[2011.35,-19.13],[2011.5,-19.95],[2012.06,-19.53],[2012.2,-19.27],[2012.31,-19.28],[2012.69,-19.38],[2011.92,-20.16],[2011.97,-20.3],[2011.97,-20.31],[2012.17,-20.33],[2012.1,-19.87],[2012.16,-19.8],[2012.34,-20.07],[2012.34,-20.06],[2012.41,-20.02],[2012.36,-20.16],[2012.5,-20.16],[2012.62,-20.06],[2012.78,-19.99],[2012.79,-20],[2012.77,-20],[2012.95,-19.19],[2012.95,-19.22],[2013.02,-19.13],[2013.1,-19.19],[2013.1,-19.22],[2013.25,-19.24],[2013.26,-19.22],[2013.32,-19.21],[2013.49,-19.27],[2013.43,-19.38],[2013.22,-19.72],[2013.21,-19.87],[2012.96,-19.89],[2013,-20.01],[2012.98,-20.06],[2013.04,-20.06],[2013.09,-20.06],[2012.99,-20.32],[2013.36,-19.79],[2013.61,-19.51],[2013.81,-19.47],[2014.03,-19.5],[2014.07,-19.59],[2014.05,-19.67],[2013.97,-20.36],[2014.09,-20.06],[2013.48,-20.05],[2013.57,-19.99],[2013.58,-19.99],[2013.63,-19.9],[2013.63,-19.91],[2013.58,-20.31],[2013.58,-20.29],[2013.82,-20.08],[2013.81,-20.24]];
const dDark=[[2010.38,-19.23],[2010.34,-19.86],[2010.34,-19.87],[2010.35,-19.56],[2009.46,-19.67],[2009.48,-19.66],[2010.5,-20.36],[2009.95,-19.86],[2011.48,-19.73],[2011.47,-19.69],[2013.94,-19.23],[2013.07,-19.87],[2013.07,-19.86],[2013.63,-19.56],[2013.57,-20.19],[2013.58,-20.21],[2013.59,-20.17],[2013.56,-20.22],[2012.8,-20.15],[2013.81,-20.24]];
const dBlue=[[2009.13,-19.55],[2009.22,-19.63],[2009.29,-19.69],[2009.87,-19.49],[2010.01,-19.46],[2010.03,-19.47],[2010.05,-19.53],[2009.94,-19.62],[2009.87,-19.64],[2010.28,-19.47],[2010.31,-19.52],[2010.28,-19.55],[2010.24,-19.61],[2010.35,-19.57],[2010.47,-19.55],[2010.61,-19.52],[2010.64,-19.63],[2010.74,-19.69],[2010.85,-19.6],[2010.91,-19.47],[2010.93,-19.46],[2011.48,-19.68],[2012.16,-19.6],[2012.62,-19.58],[2012.83,-19.62],[2012.9,-19.66],[2013.25,-19.55],[2013.63,-19.56],[2013.83,-19.64],[2013.87,-19.66],[2014.06,-19.53],[2014.16,-19.6]];
const dYellow=[[2009.03,-19.77],[2009.26,-19.8],[2009.27,-19.81],[2009.3,-19.79],[2010,-19.79],[2010.38,-19.75],[2010.5,-19.76],[2010.67,-19.76],[2010.82,-19.76],[2010.83,-19.77],[2010.85,-19.75],[2011.04,-19.75],[2011.07,-19.75],[2011.24,-19.76],[2011.52,-19.75],[2011.53,-19.82],[2011.62,-19.8],[2011.62,-19.81],[2011.69,-19.81],[2011.77,-19.81],[2011.82,-19.75],[2011.82,-19.77],[2011.99,-19.82],[2012.14,-19.79],[2012.27,-19.74],[2012.3,-19.8],[2013.2,-19.77],[2013.2,-19.75],[2013.34,-19.75],[2013.38,-19.75],[2013.42,-19.75],[2013.8,-19.75],[2014.11,-19.74],[2014.11,-19.8],[2014.11,-19.81]];
const dLightGreen=[[2009.09,-19.86],[2009.99,-19.89],[2011.8,-19.89],[2013.01,-19.89]];
const dPurple=[[2010.61,-20.19],[2010.67,-20.12],[2010.69,-20.2],[2011.22,-20.2],[2012.8,-20.14],[2012.8,-20.16],[2013.57,-20.13],[2013.58,-20.18],[2013.56,-20.2],[2013.58,-20.22],[2013.65,-20.24],[2013.6,-20.21]];
const dCyan=[[2009.19,-20.52],[2009.31,-20.49],[2009.45,-20.47],[2009.44,-20.6],[2009.49,-20.56],[2009.5,-20.58],[2009.93,-20.5],[2009.98,-20.52],[2010.03,-20.56],[2010.12,-20.67],[2010.24,-20.67],[2010.28,-20.59],[2010.41,-20.69],[2009.96,-20.82],[2010.69,-20.49],[2010.76,-20.52],[2010.8,-20.46],[2010.97,-20.53],[2010.97,-20.54],[2010.94,-20.78],[2011.25,-20.59],[2011.25,-20.66],[2011.62,-20.51],[2011.7,-20.48],[2011.71,-20.55],[2011.71,-20.58],[2011.83,-20.57],[2011.83,-20.55],[2011.85,-20.52],[2011.91,-20.56],[2012.09,-20.44],[2012.1,-20.62],[2012.13,-20.56],[2012.18,-20.52],[2012.23,-20.46],[2012.27,-20.47],[2012.29,-20.52],[2012.26,-20.69],[2012.22,-20.73],[2011.78,-20.77],[2012.57,-20.78],[2012.48,-20.59],[2012.54,-20.55],[2012.55,-20.58],[2012.55,-20.66],[2012.67,-20.65],[2013.06,-20.66],[2013.06,-20.59],[2013.09,-20.59],[2013.17,-20.55],[2013.24,-20.5],[2013.25,-20.46],[2013.29,-20.56],[2013.48,-20.62],[2013.4,-20.72],[2013.58,-20.82],[2013.72,-20.48],[2013.83,-20.75],[2013.83,-20.78],[2013.85,-20.58],[2013.87,-20.53],[2013.93,-20.66],[2013.93,-20.57],[2013.97,-20.52],[2013.96,-20.57],[2014,-20.71],[2014.04,-20.71],[2014.01,-20.56],[2014.02,-20.6],[2014.04,-20.44]];
const dRedBand=[[2014.218,-19.503],[2014.249,-19.512],[2014.259,-19.602],[2014.266,-19.818],[2014.266,-20.087],[2014.249,-20.177],[2014.187,-20.186],[2014.166,-20.105],[2014.171,-19.925],[2014.191,-19.782],[2014.177,-19.71],[2014.183,-19.602],[2014.197,-19.548]];
const dRedShocks=[[2014.25,-19.57,8.1],[2014.2,-19.97,6.5],[2014.25,-20.16,5.9],[2014.25,-20.27,6.1],[2014.25,-20.57,7.0],[2014.25,-20.79,6.1]];
const dMainshock=[2014.26,-19.7], dGreenShock=[2009.29,-19.63];

// ---------- RENDER ----------
const W=941,H=1544;
const svg=d3.select("body").append("svg").attr("width",W).attr("height",H).attr("viewBox",[0,0,W,H]);
const defs=svg.append("defs");
const DK="#0b5a0b";
function clipId(id,x0,y0,x1,y1){defs.append("clipPath").attr("id",id).append("rect").attr("x",x0).attr("y",y0).attr("width",x1-x0).attr("height",y1-y0);}
function starPath(R){return d3.symbol().type(d3.symbolStar).size(R*R/0.8908)();}
function stars(g,data,x,y,R,fill,stroke,w,op){g.append("g").selectAll("path").data(data).join("path").attr("d",starPath(R)).attr("transform",d=>`translate(${x(d[0])},${y(d[1])})`).attr("fill",fill).attr("stroke",stroke).attr("stroke-width",w).attr("stroke-linejoin","round").attr("stroke-opacity",op==null?1:op);}
function circles(g,data,x,y,r,stroke,w,fill){g.append("g").selectAll("circle").data(data).join("circle").attr("cx",d=>x(d[0])).attr("cy",d=>y(d[1])).attr("r",r).attr("fill",fill||"none").attr("stroke",stroke).attr("stroke-width",w);}
function diamond(g,d,x,y,R,fill,sw){g.append("path").attr("d",d3.symbol().type(d3.symbolSquare).size(2*R*R)()).attr("transform",`translate(${x(d[0])},${y(d[1])}) rotate(45)`).attr("fill",fill).attr("stroke","#000").attr("stroke-width",sw==null?2:sw).attr("stroke-linejoin","miter");}
function poly(g,data,x,y,fill){g.append("path").attr("d",d3.line().x(d=>x(d[0])).y(d=>y(d[1]))(data)+"Z").attr("fill",fill);}
function curve(g,data,x,y,stroke,w,closed,fill){const c=closed?d3.curveCatmullRomClosed.alpha(.5):d3.curveCatmullRom.alpha(.5);g.append("path").attr("d",d3.line().x(d=>x(d[0])).y(d=>y(d[1])).curve(c)(data)).attr("fill",fill||"none").attr("stroke",stroke).attr("stroke-width",w).attr("stroke-linejoin","round");}
function label(s,x,y,size,opt){opt=opt||{};const t=svg.append("text").attr("x",x).attr("y",y).attr("font-size",size).attr("text-anchor",opt.anchor||"start").text(s);if(opt.weight)t.attr("font-weight",opt.weight);if(opt.rot!=null)t.attr("transform",`rotate(${opt.rot},${x},${y})`);return t;}
function tickAxis(g,gen,tx,ty,vals,len){const a=g.append("g").attr("transform",`translate(${tx},${ty})`).call(gen.tickValues(vals).tickSize(len).tickFormat(""));a.select(".domain").remove();a.selectAll("line").attr("stroke","#000").attr("stroke-width",1.5);}
function frame(g,x0,y0,x1,y1){g.append("rect").attr("x",x0).attr("y",y0).attr("width",x1-x0).attr("height",y1-y0).attr("fill","none").attr("stroke","#000").attr("stroke-width",3);}

// PANEL A
const xA=d3.scaleLinear().domain([-71,-70.5]).range([164,307]);
const yA=d3.scaleLinear().domain([-19,-21]).range([13,618]);
clipId("ca",50,13,448,618);
const gA=svg.append("g").attr("clip-path","url(#ca)");
[aAftershockSlipA,aAftershockSlipB].forEach(p=>curve(gA,p,xA,yA,"#7b1a8c",1.5,true,"#f9e7f8"));
curve(gA,aAftershockHole,xA,yA,"#7b1a8c",1.5,true,"#fff");
circles(gA,aGreyCircles,xA,yA,3,"#92b89d",1.9);
circles(gA,aGreyCirclesLarge,xA,yA,4.6,"#92b89d",1.9);
circles(gA,aPaleRedCircles,xA,yA,3,"#f7a5a5",1.9);
circles(gA,aPinkCloud,xA,yA,7,"#f9a3a3",1.5,"#f9a3a3");
curve(gA,aCoastA,xA,yA,"#000",1.9);curve(gA,aCoastB,xA,yA,"#000",1.9);curve(gA,aCoastC,xA,yA,"#000",1.9);
gA.append("path").attr("d",d3.line().x(d=>xA(d[0])).y(d=>yA(d[1]))(aTrench)).attr("fill","none").attr("stroke","#000").attr("stroke-width",1.9);
gA.append("g").selectAll("path").data(aTrenchTeeth).join("path").attr("d",d3.symbol().type(d3.symbolTriangle).size(52)()).attr("transform",d=>`translate(${xA(d[0])+4},${yA(d[1])}) rotate(90)`).attr("fill","#000");
curve(gA,aCoseisOuterA,xA,yA,"#000",1.9);curve(gA,aCoseisOuterB,xA,yA,"#000",1.9);
aCoseisRings.forEach(r=>curve(gA,r,xA,yA,"#000",1.9,true));
curve(gA,aAfterslipTop,xA,yA,"#1414b8",2.6);
curve(gA,aAfterslipSmall,xA,yA,"#1414b8",2.6,true);
curve(gA,aAfterslipBig,xA,yA,"#1414b8",2.6,true);
curve(gA,aAfterslipInner,xA,yA,"#1414b8",2.6,true);
curve(gA,aGnssSlipTop,xA,yA,"#1f9a6e",4,true);
curve(gA,aGnssSlipBottom,xA,yA,"#1f9a6e",4,true);
aBright.forEach(e=>{const cx=xA(e.lon),cy=yA(e.lat);gA.append("ellipse").attr("cx",cx).attr("cy",cy).attr("rx",Math.abs(xA(e.lon+e.rlon)-cx)).attr("ry",Math.abs(yA(e.lat+e.rlat)-cy)).attr("transform",`rotate(${e.rot},${cx},${cy})`).attr("fill","none").attr("stroke",e.color).attr("stroke-width",e.w);});
circles(gA,aRedDots,xA,yA,2.6,"#e60b0b",1,"#e60b0b");
stars(gA,aRedStars,xA,yA,5.8,"#ffb3b3","#e60b0b",3);
stars(gA,aOpenStars,xA,yA,6,"#fff","#2f7d4a",1);
stars(gA,aOpenStarsLarge,xA,yA,12,"#fff","#2f7d4a",1);
stars(gA,aSmallDarkStars,xA,yA,3.8,"#2d9a3d",DK,1.2);
stars(gA,aBlueStars,xA,yA,7.5,"#6cbdf0","#2f7d6a",.7);
stars(gA,aDarkStars,xA,yA,6,"#2b8a3a",DK,1.5);
stars(gA,aLightGreenStars,xA,yA,8.5,"#93ee8c",DK,1);
stars(gA,aLightGreenBig,xA,yA,13,"#93ee8c",DK,.8);
stars(gA,aYellowStars,xA,yA,9,"#ffe900","#2f7d2a",.8);
gA.append("path").attr("d",starPath(16)).attr("transform",`translate(${xA(-70.44)},${yA(-19.78)})`).attr("fill","#ffe900").attr("stroke","#2f7d2a").attr("stroke-width",.8);
gA.append("path").attr("d",starPath(15)).attr("transform",`translate(${xA(-70.42)},${yA(-19.73)})`).attr("fill","#ffe900").attr("stroke","#2f7d2a").attr("stroke-width",.8);
stars(gA,[[-70.44,-19.74],[-70.45,-19.76],[-70.42,-19.76]],xA,yA,6,"#1f7a22",DK,1.4);
stars(gA,aCyanStars,xA,yA,7,"#4fd8e2","#1c7c5e",.8);
stars(gA,[[-70.51,-20.51]],xA,yA,14,"#4fd8e2","#1c7c5e",.8);
stars(gA,[[-70.44,-20.51]],xA,yA,11,"#4fd8e2","#1c7c5e",.8);
stars(gA,aPurpleStars,xA,yA,5,"#7c6ad8","#1c5c3e",.8);
aTowns.forEach(t=>{gA.append("path").attr("d",d3.symbol().type(d3.symbolTriangle).size(34)()).attr("transform",`translate(${xA(t.lon)},${yA(t.lat)}) rotate(-90)`).attr("fill","#000");});
aMechanisms.forEach((m,i)=>{
 const cx=xA(m.lon),cy=yA(m.lat),r=m.mag>8?25:m.mag>7?20:14;
 const px=xA(m.epi[0]),py=yA(m.epi[1]);
 gA.append("line").attr("x1",cx).attr("y1",cy).attr("x2",px).attr("y2",py).attr("stroke","#000").attr("stroke-width",1.6);
 if(i!==2&&i!==6)diamond(gA,m.epi,xA,yA,5,m.color,1.8);
 gA.append("circle").attr("cx",cx).attr("cy",cy).attr("r",r).attr("fill","#fff").attr("stroke","#000").attr("stroke-width",2);
 const pt=a=>[cx+r*Math.sin(a*Math.PI/180),cy-r*Math.cos(a*Math.PI/180)];
 const p1=pt(m.a1),p2=pt(m.a2);
 let d=`M${p1}`;
 if(m.front)d+=`Q${cx+m.front[0]*r},${cy+m.front[1]*r} ${p2}`;else d+=`A${r},${r} 0 ${(m.a2-m.a1)>180?1:0} 1 ${p2}`;
 d+=`Q${cx+m.ctrl[0]*r},${cy+m.ctrl[1]*r} ${p1}Z`;
 gA.append("path").attr("d",d).attr("fill",m.color).attr("stroke","#000").attr("stroke-width",.8);
});
gA.append("text").attr("x",394).attr("y",198).attr("font-size",12.5).attr("font-weight","bold").text("Pisagua");
gA.append("text").attr("x",402).attr("y",384).attr("font-size",13.2).attr("font-weight","bold").text("Iquique");
tickAxis(svg,d3.axisTop(xA),0,13,aLonTicks,-7);
tickAxis(svg,d3.axisBottom(xA),0,618,aLonTicks,-7);
tickAxis(svg,d3.axisLeft(yA),50,0,aLatTicks,-7);
tickAxis(svg,d3.axisRight(yA),448,0,aLatTicks,-7);
frame(svg,50,13,448,618);
aMechanisms.forEach((m,i)=>{const t=label(m.label,aMechanismLabelAt[i][0],aMechanismLabelAt[i][1],m.label.length>4?13.8:13,{anchor:"middle"});if(m.label.length>4)t.attr("paint-order","stroke").attr("stroke","#fff").attr("stroke-opacity",.7).attr("stroke-width",2.5);});
label("a)",65,42,24);
function deg(s,x,y){const t=label(s,x,y,17);t.append("tspan").attr("dy",-7).attr("font-size",9).text("°");}
deg("-19",12,21);deg("-20",12,322);deg("-21",12,625);deg("-71",148,638);deg("-70.5",283,638);
label("longitude",234,649,24,{anchor:"middle"});

// LEGEND (swatches)
const lg=svg.append("g").attr("fill","none");
lg.append("path").attr("d","M517,42L533,31L549,54L541,60L535,58Z").attr("stroke","#1414b8").attr("stroke-width",2.6).attr("stroke-linejoin","round");
lg.append("ellipse").attr("cx",526).attr("cy",76).attr("rx",6.7).attr("ry",10.5).attr("stroke","#000").attr("stroke-width",2);
lg.append("ellipse").attr("cx",526).attr("cy",107).attr("rx",8.5).attr("ry",10).attr("stroke","#7b1a8c").attr("stroke-width",2).attr("fill","#f9e7f8");
lg.append("ellipse").attr("cx",523).attr("cy",137).attr("rx",20).attr("ry",12).attr("stroke","#fb5a5f").attr("stroke-width",5);
lg.append("ellipse").attr("cx",577).attr("cy",135).attr("rx",17).attr("ry",14).attr("stroke","#c81212").attr("stroke-width",5);
lg.append("path").attr("d","M498,172C505,166 510,158 520,158C530,158 532,162 535,167L541,174C535,180 525,181 515,177C508,175 502,175 498,172Z").attr("stroke","#1f9a6e").attr("stroke-width",3.4);
lg.append("ellipse").attr("cx",572).attr("cy",172).attr("rx",22).attr("ry",12).attr("transform","rotate(-6,572,172)").attr("stroke","#00b000").attr("stroke-width",4.5);
lg.append("path").attr("d",starPath(10)).attr("transform","translate(515,205)").attr("fill","#fff").attr("stroke",DK).attr("stroke-width",1.4);
label("afterslip",560,53,24.3);
label("coseismic mainshock slip",545,85,24.7);
label("coseismic aftershock slip",545,111,24.7);
label("preseismic slow slip",608,142,24.5);
label("earthquake repeater",537,211,24.7);

// PANEL B
const xB=d3.scaleLinear().domain([15,33]).range([461.5,886]);
const yB=d3.scaleLinear().domain([-19,-21]).range([248,618]);
clipId("cb",461,248,886,618);
const gB=svg.append("g").attr("clip-path","url(#cb)");
poly(gB,bRepeaterSlip,xB,yB,"#fdb4b4");
poly(gB,bTiltSlip,xB,yB,"#f08070");
poly(gB,bMassLeft,xB,yB,"#ea1616");
poly(gB,bMassRight,xB,yB,"#ea1616");
circles(gB,bMassGaps,xB,yB,2,"#ffb0b0",.8);
circles(gB,bCircles,xB,yB,3.3,"#ec1212",1.1);
circles(gB,bCirclesLarge,xB,yB,5,"#ec1212",1.1);
circles(gB,bMassEdgeCircles,xB,yB,4.8,"#ec1212",1.6);
circles(gB,bGreenCircles,xB,yB,3.4,"#1d7a20",1.2);
stars(gB,bStars,xB,yB,5.4,"#fdbcbc","#e80c0c",3);
gB.append("path").attr("d",d3.line().x(d=>xB(d[0])).y(d=>yB(d[1]))(bArrow)).attr("stroke","#000").attr("stroke-width",5.5).attr("stroke-linecap","round").attr("fill","none");
poly(gB,bArrowHead,xB,yB,"#000");
tickAxis(svg,d3.axisTop(xB),0,248,bDayTicks,-8);
tickAxis(svg,d3.axisBottom(xB),0,618,bDayTicks,-8);
tickAxis(svg,d3.axisLeft(yB),461,0,[-20],-12);
frame(svg,461.5,248,886,618);
bForeshocks.forEach(d=>diamond(svg,d,xB,yB,8,"#e60b0b",2));
diamond(svg,bOrangeShock,xB,yB,8,"#f5a400",2);
svg.append("line").attr("x1",xB(32.5)).attr("y1",yB(-19.57)).attr("x2",xB(32.95)).attr("y2",yB(-19.52)).attr("stroke","#000").attr("stroke-width",4);
svg.append("line").attr("x1",xB(32.55)).attr("y1",yB(-19.56)).attr("x2",xB(32.9)).attr("y2",yB(-19.525)).attr("stroke","#e60b0b").attr("stroke-width",1.3);
diamond(svg,bMainshock,xB,yB,14,"#000",1);
label("GNSS + repeaters slow slip",504,345,22.4);
label("GNSS + tilt slow slip",504,498,22.4);
label("b)",472,279,24);
bDays.forEach(d=>label(String(d),xB(d+.5),639,21.5,{anchor:"middle"}));
label("1",880,639,21.5,{anchor:"middle"});
label("March 2014",694,667,25.5,{anchor:"middle"});
label("-19",902,257,23);label("-21",902,627,23);
label("latitude",905,440,28.5,{anchor:"middle",rot:90});

// PANEL C
const xC=d3.scaleLinear().domain([0,304]).range([40,885.7]);
const yC=d3.scaleLinear().domain([-19,-21]).range([686,1056]);
clipId("cc",40,686,888,1056);
const gC=svg.append("g").attr("clip-path","url(#cc)");
poly(gC,cSlipTop,xC,yC,"#9cc9b3");
poly(gC,cSlipBottom,xC,yC,"#9cc9b3");
poly(gC,cTilt,xC,yC,"#68d97c");
defs.append("clipPath").attr("id","ccb").append("path").attr("d",d3.line().x(d=>xC(d[0])).y(d=>yC(d[1]))(cSlipBottom)+"Z");
gC.append("g").attr("clip-path","url(#ccb)").append("path").attr("d",d3.line().x(d=>xC(d[0])).y(d=>yC(d[1]))(cTilt)+"Z").attr("fill","#00b84c");
poly(gC,cRedMass,xC,yC,"#ec0f0f");
circles(gC,cRedEdge,xC,yC,3.2,"#ec0f0f",2,"#ec0f0f");
circles(gC,cCircles,xC,yC,2.8,"#1a6e1e",1.15);
circles(gC,cCirclesLarge,xC,yC,4.3,"#1a6e1e",1.15);
circles(gC,cRedCircles,xC,yC,2.6,"#ee1a1a",1.1);
circles(gC,cRedCirclesLarge,xC,yC,3.9,"#ee1a1a",1.1);
stars(gC,cStars,xC,yC,5.3,"#fff",DK,3);
tickAxis(svg,d3.axisTop(xC),0,686,cMonthTicks,-10);
tickAxis(svg,d3.axisBottom(xC),0,1056,cMonthTicks,-10);
tickAxis(svg,d3.axisLeft(yC),40,0,[-20],-12);
frame(svg,40,686,888,1056);
svg.append("line").attr("x1",xC(299.5)).attr("y1",yC(-19.57)).attr("x2",xC(303)).attr("y2",yC(-19.49)).attr("stroke","#000").attr("stroke-width",4);
svg.append("line").attr("x1",xC(299.9)).attr("y1",yC(-19.56)).attr("x2",xC(302.7)).attr("y2",yC(-19.5)).attr("stroke","#e60b0b").attr("stroke-width",1.3);
cForeshocks.forEach(d=>diamond(svg,d,xC,yC,8,"#e60b0b",2.2));
diamond(svg,cMainshock,xC,yC,14,"#000",1);
label("GNSS slow slip",266,1023,22.4);
label("+ tilt",720,1024,22.4);
label("c)",39,673,24);
cMonthLabels.forEach((s,i)=>label(s,xC(cMonthLabelDay[i]),1078,21.5,{anchor:"middle"}));
label("2013",338,1105,26,{anchor:"middle"});
label("2014",785,1108,26,{anchor:"middle"});
label("-19",904,694,23);label("-21",904,1065,23);
label("latitude",904,874,28.5,{anchor:"middle",rot:90});

// PANEL D
const xD=d3.scaleLinear().domain([2009,2014.25]).range([39,887]);
const yD=d3.scaleLinear().domain([-19,-21]).range([1125,1496]);
clipId("cd",39,1125,889,1496);
const gD=svg.append("g").attr("clip-path","url(#cd)");
poly(gD,dRedBand,xD,yD,"#ee1010");
const S=7,GR="#1f7a45";
stars(gD,dOpen,xD,yD,S,"#fff",GR,1,.8);
stars(gD,dDark,xD,yD,S,"#2f9a4a",DK,1.7);
stars(gD,dLightGreen,xD,yD,S,"#9cec90",GR,.9);
stars(gD,dBlue,xD,yD,S,"#6cbdf0","#1f7a60",.9);
stars(gD,dCyan,xD,yD,S,"#4fd8e2","#1a7a55",.9);
stars(gD,dYellow,xD,yD,S,"#ffe900","#3d7d20",.9);
stars(gD,dPurple,xD,yD,S-.5,"#7c62dc","#14603a",1);
const months=d3.range(2009,2014.26,1/12);
tickAxis(svg,d3.axisTop(xD),0,1125,months,-5);
tickAxis(svg,d3.axisBottom(xD),0,1496,months,-5);
tickAxis(svg,d3.axisTop(xD),0,1125,dYears.slice(1),-10);
tickAxis(svg,d3.axisBottom(xD),0,1496,dYears.slice(1),-10);
tickAxis(svg,d3.axisLeft(yD),39,0,[-19.5,-20,-20.5],-12);
frame(svg,39,1125,887,1496);
diamond(svg,dGreenShock,xD,yD,7.5,"#0b4a08",2);
dRedShocks.forEach(d=>diamond(svg,d,xD,yD,(d[2]-6.1)*3+7,"#e60b0b",2));
diamond(svg,dMainshock,xD,yD,14.5,"#000",1);
label("d)",44,1113,24);
dYears.forEach((s,i)=>label(String(s),xD(dLabelAt[i]),1523,25.5,{anchor:"middle"}));
label("time",518,1538,27,{anchor:"middle"});
label("-19",903,1134,23);label("-21",903,1505,23);
label("latitude",905,1336,28.5,{anchor:"middle",rot:90});
</script></body></html>
